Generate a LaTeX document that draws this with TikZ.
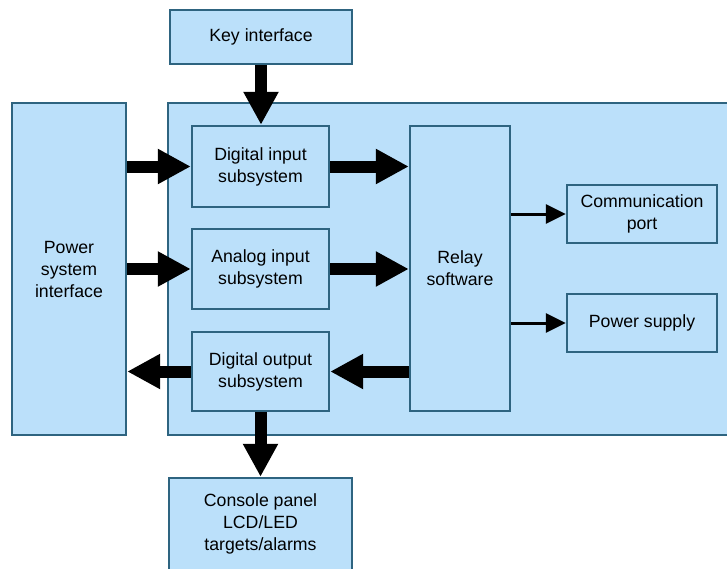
\documentclass[tikz,border=0pt]{standalone}
\usepackage{fontspec}
\setmainfont{Liberation Sans}
\usetikzlibrary{arrows.meta}
\definecolor{boxfill}{RGB}{187,224,250}
\definecolor{boxline}{RGB}{46,100,128}
\begin{document}
\begin{tikzpicture}[x=1pt,y=-1pt,
    block/.style={draw=boxline,fill=boxfill,line width=2.4pt,align=center,
        inner sep=0pt,font=\fontsize{17.7}{22}\selectfont},
    bigarrow/.style={line width=12pt,-{Triangle[width=33pt,length=33pt]}},
    thinarrow/.style={line width=3pt,-{Triangle[width=19pt,length=20pt]}}]
                \useasboundingbox (0,0) rectangle (727,568);
                \clip (0,0) rectangle (727,568);

                \draw[block] (168,103) rectangle (760,435);
                \node[block,minimum width=182pt,minimum height=54pt] (key) at (261,37) {Key interface};
                \node[block,minimum width=114pt,minimum height=332pt] (power) at (69,269) {Power\\system\\interface};
                \node[block,minimum width=137pt,minimum height=81pt] (dinp) at (260.5,166.5) {Digital input\\subsystem};
                \node[block,minimum width=137pt,minimum height=80pt] (ainp) at (260.5,269) {Analog input\\subsystem};
                \node[block,minimum width=137pt,minimum height=79pt] (dout) at (260.5,371.5) {Digital output\\subsystem};
                \node[block,minimum width=100pt,minimum height=285pt] (relay) at (460,268.5) {Relay\\software};
                \node[block,minimum width=150pt,minimum height=58pt] (comm) at (642,214) {Communication\\port};
                \node[block,minimum width=150pt,minimum height=58pt] (psu) at (642,323) {Power supply};
                \node[block,minimum width=183pt,minimum height=92pt] (console) at (260.5,524) {Console panel\\LCD/LED\\targets/alarms};

                % inputs and outputs
                \draw[bigarrow] (key.south) -- (key.south |- dinp.north);
                \draw[bigarrow] (dinp.west -| power.east) -- (dinp.west);
                \draw[bigarrow] (ainp.west -| power.east) -- (ainp.west);
                \draw[bigarrow] (dout.west) -- (dout.west -| power.east);
                \draw[bigarrow] (dinp.east) -- (dinp.east -| relay.west);
                \draw[bigarrow] (ainp.east) -- (ainp.east -| relay.west);
                \draw[bigarrow] (dout.east -| relay.west) -- (dout.east);
                \draw[bigarrow] (dout.south) -- (dout.south |- console.north);

                \draw[thinarrow] (comm.west -| relay.east) -- (comm.west);
                \draw[thinarrow] (psu.west -| relay.east) -- (psu.west);
            \end{tikzpicture}
\end{document}
